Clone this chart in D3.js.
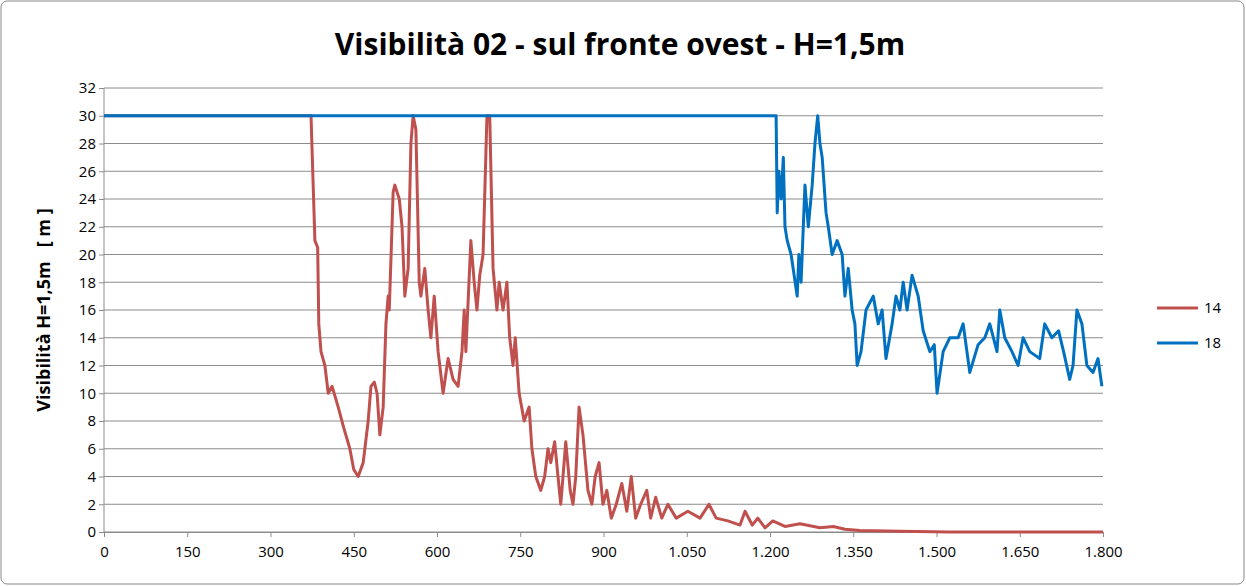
<!DOCTYPE html><html><head><meta charset="utf-8"><script src="https://cdn.jsdelivr.net/npm/d3@7"></script>
<style>body{margin:0;background:#fff}text{font-family:"Open Sans","Liberation Sans",sans-serif}</style></head><body><svg id="c" width="1246" height="586"></svg><script>
const xTicks=[0,150,300,450,600,750,900,1050,1200,1350,1500,1650,1800];
const xTickLabels=["0","150","300","450","600","750","900","1.050","1.200","1.350","1.500","1.650","1.800"];
const yTicks=d3.range(0,33,2);
const seriesNames=["14","18"];
const s14X=[0,373,380,385,387,391,398,404,411,422,432,443,450,458,467,476,481,487,492,497,503,508,512,514,521,524,532,537,542,548,553,557,562,568,571,578,584,589,595,602,611,620,629,638,645,649,652,661,667,672,677,683,690,695,701,708,712,719,726,731,737,741,748,757,766,771,778,787,794,800,805,812,818,823,832,840,845,850,856,863,872,879,885,892,899,906,914,923,933,942,950,958,967,978,985,994,1005,1016,1031,1052,1074,1090,1103,1124,1146,1155,1168,1178,1191,1205,1227,1254,1290,1314,1335,1362,1434,1524,1800];
const s14Y=[30,30,21,20.5,15,13,12,10,10.5,9,7.5,6,4.5,4,5,8,10.5,10.8,10,7,9,15,17,16,24.5,25,24,22,17,19,28,30,29,18,17,19,16,14,17,13,10,12.5,11,10.5,13,16,13,21,18,16,18.5,20,30,30,19,16,18,16,18,14,12,14,10,8,9,6,4,3,4,6,5,6.5,4,2,6.5,3,2,4,9,7,3,2,4,5,2,3,1,2,3.5,1.5,4,1,2,3,1,2.5,1,2,1,1.5,1,2,1,0.8,0.5,1.5,0.5,1,0.3,0.8,0.4,0.6,0.3,0.4,0.2,0.1,0.05,0,0];
const s18X=[0,1211,1213,1216,1220,1224,1227,1231,1238,1249,1252,1256,1263,1269,1276,1281,1286,1290,1294,1301,1305,1312,1321,1330,1335,1341,1348,1353,1357,1364,1373,1386,1395,1402,1409,1420,1427,1434,1440,1447,1456,1467,1476,1488,1496,1501,1512,1524,1539,1548,1560,1575,1587,1596,1609,1614,1623,1636,1647,1656,1668,1686,1695,1708,1720,1729,1740,1746,1753,1762,1771,1782,1791,1798];
const s18Y=[30,30,23,26,24,27,22,21,20,17,20,18,25,22,25,28,30,28,27,23,22,20,21,20,17,19,16,15,12,13,16,17,15,16,12.5,15,17,16,18,16,18.5,17,14.5,13,13.5,10,13,14,14,15,11.5,13.5,14,15,13,16,14,13,12,14,13,12.5,15,14,14.5,13,11,12,16,15,12,11.5,12.5,10.5];
const colors=["#C0504D","#0070C0"];
const svg=d3.select("#c");
svg.append("rect").attr("x",1).attr("y",1).attr("width",1243).attr("height",583).attr("rx",6).attr("fill","#fff").attr("stroke","#888");
const x=d3.scaleLinear().domain([0,1800]).range([104,1103]);
const y=d3.scaleLinear().domain([0,32]).range([532,88]);
svg.append("g").selectAll("line").data(yTicks).join("line").attr("x1",104).attr("x2",1103).attr("y1",d=>y(d)).attr("y2",d=>y(d)).attr("stroke","#8c8c8c").attr("stroke-width",1);
svg.append("line").attr("x1",104).attr("x2",104).attr("y1",88).attr("y2",532).attr("stroke","#8c8c8c");
const ga=svg.append("g").attr("transform","translate(0,532)").call(d3.axisBottom(x).tickValues(xTicks).tickFormat((d,i)=>xTickLabels[i]).tickSize(5));
ga.select(".domain").attr("stroke","#8c8c8c");ga.selectAll("line").attr("stroke","#8c8c8c");
ga.selectAll("text").attr("font-size",15).attr("fill","#000").attr("dy","1.1em");
const gy=svg.append("g").attr("transform","translate(104,0)").call(d3.axisLeft(y).tickValues(yTicks).tickSize(5));
gy.select(".domain").remove();gy.selectAll("line").attr("stroke","#8c8c8c");
gy.selectAll("text").attr("font-size",15).attr("fill","#000");
const line=d3.line().x(d=>x(d[0])).y(d=>y(d[1]));
[[s14X,s14Y],[s18X,s18Y]].forEach((s,i)=>{
svg.append("path").datum(s[0].map((v,j)=>[v,s[1][j]])).attr("d",line).attr("fill","none").attr("stroke",colors[i]).attr("stroke-width",3).attr("stroke-linejoin","round");});
svg.append("text").attr("x",620).attr("y",55).attr("text-anchor","middle").attr("font-size",30).attr("font-weight","bold").text("Visibilità 02 - sul fronte ovest - H=1,5m");
svg.append("text").attr("transform","translate(50,310) rotate(-90)").attr("text-anchor","middle").attr("font-size",18).attr("font-weight","bold").attr("xml:space","preserve").text("Visibilità H=1,5m   [ m ]");
seriesNames.forEach((n,i)=>{const ly=308+i*35;
svg.append("line").attr("x1",1157).attr("x2",1198).attr("y1",ly).attr("y2",ly).attr("stroke",colors[i]).attr("stroke-width",3);
svg.append("text").attr("x",1204).attr("y",ly+5).attr("font-size",15).text(n);});
</script></body></html>
